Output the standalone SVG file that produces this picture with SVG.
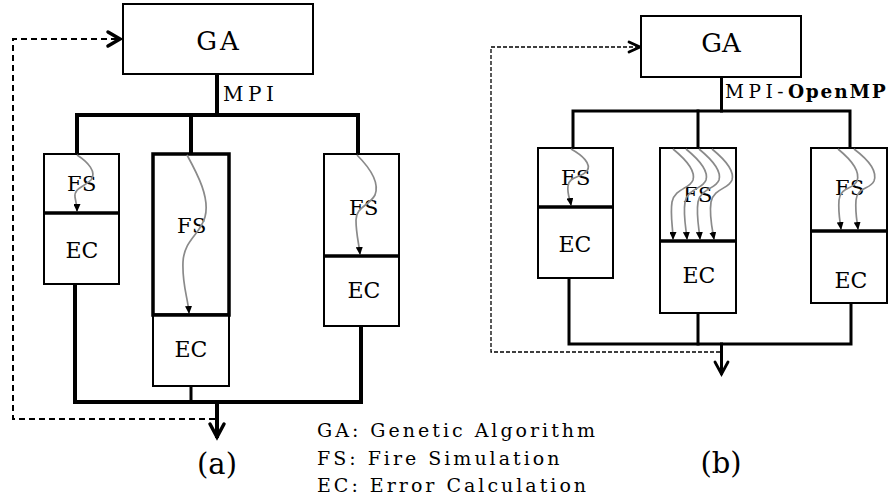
<svg xmlns="http://www.w3.org/2000/svg" width="893" height="501" viewBox="0 0 893 501" font-family="'DejaVu Serif', serif">
<style>
  text { font-family: 'DejaVu Serif', serif; fill: #000; }
  .box { fill: #fff; stroke: #000; stroke-width: 2; }
  .sep { stroke: #000; stroke-width: 3.5; }
  .lbl { font-size: 22px; text-anchor: middle; }
  .fs { font-size: 21px; text-anchor: middle; letter-spacing: 0.5px; }
  .bus { fill: none; stroke: #000; stroke-width: 4; stroke-linecap: square; }
  .busb { fill: none; stroke: #000; stroke-width: 3; stroke-linecap: square; }
  .flow { fill: none; stroke: #8a8a8a; stroke-width: 1.7; marker-end: url(#tip); }
  .dash { fill: none; stroke: #000; stroke-width: 2; stroke-dasharray: 6 4; }
  .dashb { fill: none; stroke: #000; stroke-width: 1.3; stroke-dasharray: 4 2; }
  .chev { fill: none; stroke: #000; stroke-width: 3.5; stroke-linecap: round; stroke-linejoin: miter; }
  .chevb { fill: none; stroke: #000; stroke-width: 2.8; stroke-linecap: round; }
  .legend { font-size: 19px; letter-spacing: 3px; }
  .cap { font-size: 29px; text-anchor: middle; }
</style>
<defs>
  <marker id="tip" markerUnits="userSpaceOnUse" markerWidth="8" markerHeight="7" refX="7" refY="3.5" orient="auto">
    <path d="M0,0 L8,3.5 L0,7 z" fill="#000"/>
  </marker>
</defs>

<!-- ===== (a) ===== -->
<g id="connectors_a">
  <path class="bus" d="M217,74 V115"/>
  <path class="bus" d="M77,154 V115 H358 V154"/>
  <path class="bus" d="M191,115 V154"/>
  <path class="bus" d="M75,284 V402 H361 V326"/>
  <path class="busb" d="M191,386 V402"/>
  <path class="bus" d="M217,402 V436"/>
  <polyline class="chev" points="210,424 217,437 224,424"/>
  <path class="dash" d="M215,419 H13 V39 H117"/>
  <polyline class="chev" points="108,32 120,39 108,46"/>
</g>
<g id="GA_a">
  <rect class="box" x="123" y="4" width="190" height="70"/>
  <text x="219" y="50" font-size="26" text-anchor="middle" letter-spacing="3">GA</text>
</g>
<text x="223" y="101" font-size="20" letter-spacing="4.5">MPI</text>

<g id="FS_a1">
  <rect class="box" x="44" y="154" width="75" height="59"/>
  <text class="fs" x="82" y="191">FS</text>
  <path class="flow" d="M77,155 C88,162 97,172 91,180 C84,187 74,188 75,197 C76,203 77,206 77,211"/>
</g>
<g id="EC_a1">
  <rect class="box" x="44" y="213" width="75" height="71"/>
  <line class="sep" x1="44" y1="213" x2="119" y2="213"/>
  <text class="lbl" x="82" y="258">EC</text>
</g>

<g id="FS_a2">
  <rect class="box" x="153" y="154" width="76" height="161" style="stroke-width:3.5"/>
  <text class="fs" x="192" y="233">FS</text>
  <path class="flow" d="M187,155 C198,175 210,198 205,217 C200,235 184,240 183,262 C182,285 188,298 189,313"/>
</g>
<g id="EC_a2">
  <rect class="box" x="153" y="315" width="76" height="71"/>
  <line class="sep" x1="153" y1="315" x2="229" y2="315"/>
  <text class="lbl" x="191" y="357">EC</text>
</g>

<g id="FS_a3">
  <rect class="box" x="324" y="154" width="75" height="102"/>
  <text class="fs" x="364" y="215">FS</text>
  <path class="flow" d="M357,155 C368,166 380,182 375,195 C369,206 356,207 356,220 C356,234 359,244 360,254"/>
</g>
<g id="EC_a3">
  <rect class="box" x="324" y="256" width="75" height="70"/>
  <line class="sep" x1="324" y1="256" x2="399" y2="256"/>
  <text class="lbl" x="364" y="298">EC</text>
</g>

<text class="cap" x="217" y="474">(a)</text>

<!-- ===== (b) ===== -->
<g id="connectors_b">
  <path class="busb" d="M721.5,77 V111"/>
  <path class="busb" d="M573,148 V111 H850 V148"/>
  <path class="busb" d="M698,111 V148"/>
  <path class="busb" d="M569,278 V344 H851 V303"/>
  <path class="busb" d="M698,313 V344"/>
  <path class="busb" d="M721.5,344 V373"/>
  <polyline class="chevb" points="715,362 721.5,374 728,362"/>
  <path class="dashb" d="M720,352 H491 V47 H638"/>
  <polyline class="chevb" points="629,42 640,47 629,52"/>
</g>
<g id="GA_b">
  <rect class="box" x="641" y="16" width="160" height="61"/>
  <text x="721" y="52" font-size="26" text-anchor="middle">GA</text>
</g>
<text x="725" y="98" font-size="18.5"><tspan letter-spacing="4.5">MPI-</tspan><tspan font-weight="bold" letter-spacing="1.8">OpenMP</tspan></text>

<g id="FS_b1">
  <rect class="box" x="538" y="148" width="75" height="59"/>
  <text class="fs" x="576" y="185">FS</text>
  <path class="flow" d="M571,149 C582,155 592,164 587,171 C581,178 569,176 568,186 C567,194 570,199 571,205"/>
</g>
<g id="EC_b1">
  <rect class="box" x="538" y="207" width="75" height="71"/>
  <line class="sep" x1="538" y1="207" x2="613" y2="207"/>
  <text class="lbl" x="575" y="252">EC</text>
</g>

<g id="FS_b2">
  <rect class="box" x="660" y="148" width="76" height="93"/>
  <text class="fs" x="698" y="202">FS</text>
  <path class="flow" d="M673,149 C684,158 696,170 693,180 C690,189 675,188 672,202 C670,215 673,228 673,239"/>
  <path class="flow" d="M686,149 C697,158 709,170 706,180 C703,189 688,188 685,202 C683,215 686,228 687,239"/>
  <path class="flow" d="M699,149 C710,158 722,170 719,180 C716,189 701,188 698,202 C696,215 699,228 700,239"/>
  <path class="flow" d="M712,149 C723,158 735,170 732,180 C729,189 714,188 711,202 C709,215 712,228 714,239"/>
</g>
<g id="EC_b2">
  <rect class="box" x="660" y="241" width="76" height="72"/>
  <line class="sep" x1="660" y1="241" x2="736" y2="241"/>
  <text class="lbl" x="699" y="283">EC</text>
</g>

<g id="FS_b3">
  <rect class="box" x="811" y="148" width="76" height="83"/>
  <text class="fs" x="850" y="195">FS</text>
  <path class="flow" d="M838,149 C849,158 861,170 857,181 C853,190 841,186 839,200 C838,212 840,221 841,229"/>
  <path class="flow" d="M854,149 C866,158 878,170 874,181 C870,190 858,186 856,200 C855,212 857,221 858,229"/>
</g>
<g id="EC_b3">
  <rect class="box" x="811" y="231" width="76" height="72"/>
  <line class="sep" x1="811" y1="231" x2="887" y2="231"/>
  <text class="lbl" x="851" y="288">EC</text>
</g>

<text class="cap" x="721" y="473">(b)</text>

<!-- ===== legend ===== -->
<g id="legend">
  <text class="legend" x="317" y="437">GA: Genetic Algorithm</text>
  <text class="legend" x="317" y="465">FS: Fire Simulation</text>
  <text class="legend" x="317" y="492">EC: Error Calculation</text>
</g>
</svg>
